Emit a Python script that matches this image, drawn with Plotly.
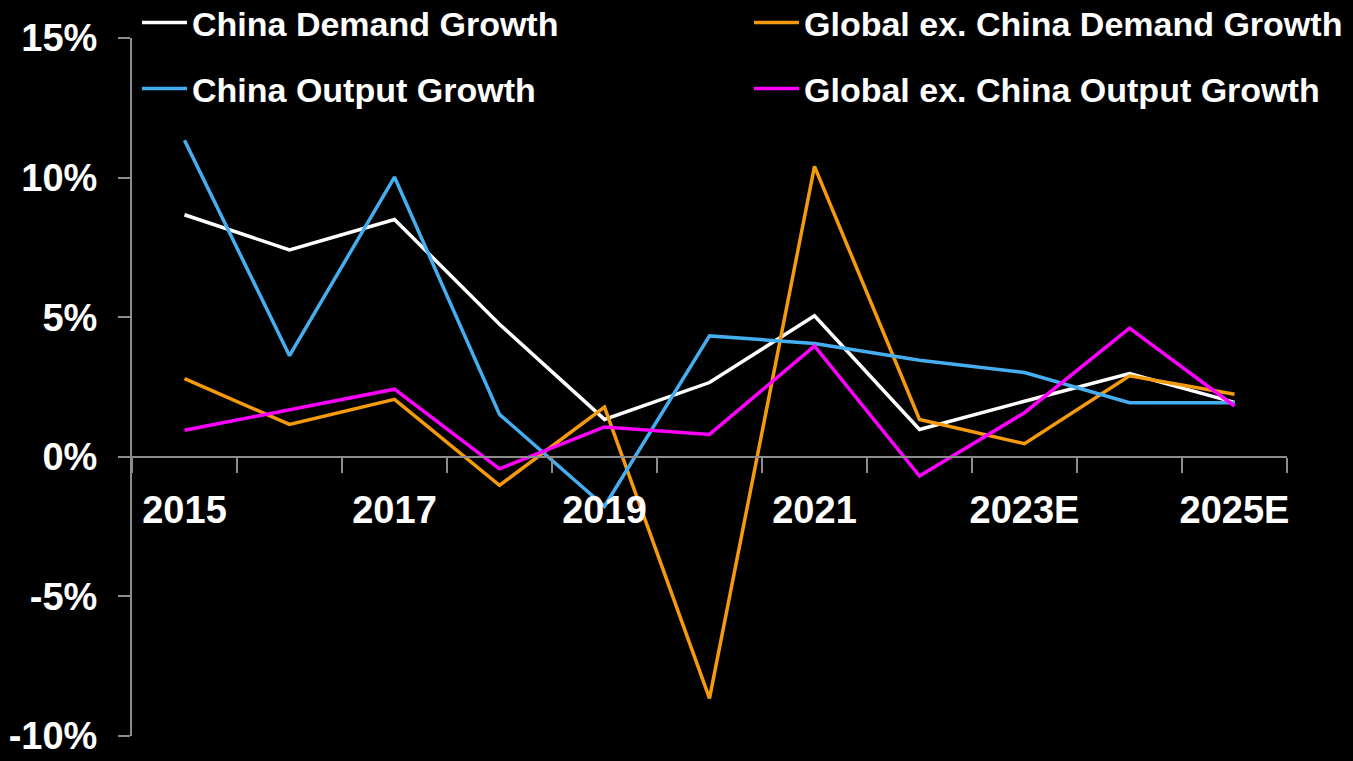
import plotly.graph_objects as go

categories = ["2015", "2016", "2017", "2018", "2019", "2020", "2021", "2022", "2023E", "2024E", "2025E"]
x_tick_labels = ["2015", "", "2017", "", "2019", "", "2021", "", "2023E", "", "2025E"]
y_tick_values = [-10, -5, 0, 5, 10, 15]
y_tick_labels = ["-10%", "-5%", "0%", "5%", "10%", "15%"]

china_demand = [8.67, 7.41, 8.50, 4.75, 1.34, 2.66, 5.05, 0.98, 1.99, 2.98, 1.95]
china_output = [11.34, 3.62, 10.02, 1.52, -1.77, 4.33, 4.06, 3.46, 3.02, 1.94, 1.94]
global_demand = [2.80, 1.16, 2.06, -1.02, 1.78, -8.65, 10.40, 1.34, 0.47, 2.90, 2.24]
global_output = [0.95, 1.70, 2.42, -0.43, 1.07, 0.80, 3.97, -0.69, 1.58, 4.61, 1.82]

FONT = "Liberation Sans, Arial, sans-serif"
AXIS_GRAY = "#8c8c8c"

W, H = 1353, 761
ml, mr, mt, mb = 132, 66, 38, 25
pw, ph = W - ml - mr, H - mt - mb

def px_y(py):
    return (H - mb - py) / ph

def px_x(px):
    return (px - ml) / pw

# name, values, colour, legend id, legend left (px), legend row centre (px)
series = [
    ("China Demand Growth", china_demand, "#ffffff", "legend", 137, 23),
    ("Global ex. China Demand Growth", global_demand, "#f59a0c", "legend2", 749, 23),
    ("China Output Growth", china_output, "#45aef0", "legend3", 137, 89),
    ("Global ex. China Output Growth", global_output, "#ff00ff", "legend4", 749, 89),
]

fig = go.Figure()
legend_font = dict(family=FONT, size=34, color="white", weight="bold")
legends = {}
for name, vals, color, leg, lx, ly in series:
    fig.add_trace(go.Scatter(
        x=categories, y=vals, mode="lines", name=name,
        line=dict(color=color, width=3.5), legend=leg, hoverinfo="skip",
    ))
    legends[leg] = dict(
        x=px_x(lx), y=px_y(ly), xanchor="left", yanchor="middle",
        orientation="h", bgcolor="rgba(0,0,0,0)", borderwidth=0,
        font=legend_font, itemwidth=45,
    )

fig.update_layout(
    width=W, height=H,
    margin=dict(l=ml, r=mr, t=mt, b=mb, autoexpand=False),
    paper_bgcolor="black", plot_bgcolor="black",
    font=dict(family=FONT, color="white"),
    showlegend=True,
    **legends,
    xaxis=dict(
        type="category", range=[-0.5, 10.5],
        tickmode="array", tickvals=categories, ticktext=x_tick_labels,
        tickson="boundaries", ticks="outside", ticklen=15, tickwidth=2, tickcolor=AXIS_GRAY,
        showline=True, linecolor=AXIS_GRAY, linewidth=2,
        showgrid=False, zeroline=False,
        anchor="free", position=0.4, automargin=False, tickangle=0,
        tickfont=dict(family=FONT, size=38, color="white", weight="bold"),
        ticklabelstandoff=20,
    ),
    yaxis=dict(
        range=[-10, 15], tickmode="array", tickvals=y_tick_values, ticktext=y_tick_labels,
        ticks="outside", ticklen=12, tickwidth=2, tickcolor=AXIS_GRAY,
        showline=True, linecolor=AXIS_GRAY, linewidth=2,
        showgrid=False, zeroline=False, automargin=False,
        tickfont=dict(family=FONT, size=38, color="white", weight="bold"),
        ticklabelstandoff=13,
    ),
)

fig.write_html(
    "out.html",
    config={"displayModeBar": False},
    post_script="document.body.style.margin='0';document.body.style.overflow='hidden';",
)
